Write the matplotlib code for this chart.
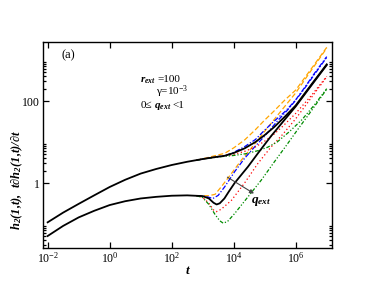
import matplotlib
matplotlib.use("Agg")
import matplotlib.pyplot as plt
from matplotlib.ticker import FixedLocator, NullFormatter, FixedFormatter
import numpy as np

plt.rcParams['font.family'] = ['Liberation Serif', 'DejaVu Serif']
plt.rcParams['mathtext.default'] = 'regular'

# --- datos (log10 t, valor) ---
# tramo comun (curva negra, todas coinciden al inicio)
logt_comun = [-2.0, -1.5, -1.0, -0.5, 0.0, 0.5, 1.0, 1.5, 2.0, 2.5, 3.0]
h_comun = [0.11, 0.19, 0.31, 0.5, 0.8, 1.2, 1.7, 2.2, 2.75, 3.3, 3.85]
dh_comun = [0.051, 0.09, 0.145, 0.21, 0.29, 0.36, 0.42, 0.46, 0.49, 0.5, 0.48]

# negra
logt_negra_h = [3.0, 3.5, 3.7, 4.0, 4.35, 4.7, 5.0, 5.3, 5.65, 6.0, 6.5, 7.0]
h_negra = [3.85, 4.4, 4.6, 5.4, 7.0, 10, 14.8, 23, 41.6, 78, 250, 785]
logt_negra_dh = [3.0, 3.2, 3.35, 3.45, 3.55, 3.7, 3.85, 4.03, 4.25, 4.46, 4.78, 5.2, 5.6, 6.0, 6.5, 7.0]
dh_negra = [0.48, 0.42, 0.33, 0.30, 0.32, 0.42, 0.63, 1.0, 1.6, 2.5, 5.3, 13.8, 32, 74, 238, 755]

# naranja
logt_nar_h = [2.8, 3.0, 3.3, 3.71, 4.0, 4.35, 4.7, 5.0, 5.3, 5.65, 6.0, 6.5, 7.0]
h_nar = [3.6, 3.88, 4.45, 5.3, 7.2, 11.2, 20, 34.4, 57, 106, 185, 610, 2040]
logt_nar_dh = [2.8, 3.2, 3.4, 3.6, 3.93, 4.25, 4.52, 4.9, 5.3, 5.7, 6.0, 6.5, 7.0]
dh_nar = [0.49, 0.49, 0.53, 0.81, 1.72, 3.64, 6.4, 14.7, 35, 83, 158, 560, 1950]

# azul
logt_azul_h = [2.8, 3.1, 3.4, 3.71, 4.0, 4.35, 4.7, 5.0, 5.3, 5.65, 5.97, 6.3, 6.6, 7.0]
h_azul = [3.6, 3.95, 4.3, 4.6, 5.6, 7.7, 11.5, 19.6, 32, 55, 100, 220, 470, 1210]
logt_azul_dh = [2.8, 3.1, 3.33, 3.5, 3.71, 4.03, 4.35, 4.7, 5.0, 5.4, 5.8, 6.2, 6.6, 7.0]
dh_azul = [0.49, 0.47, 0.42, 0.5, 0.81, 1.89, 4.0, 8.0, 14, 32, 68, 165, 440, 1160]

# roja
logt_roja_h = [2.8, 3.2, 3.6, 4.0, 4.35, 4.7, 5.0, 5.3, 5.6, 6.0, 6.5, 7.0]
h_roja = [3.6, 4.1, 4.5, 5.0, 5.9, 7.6, 10.5, 15.5, 25, 50, 135, 400]
logt_roja_dh = [2.8, 3.0, 3.2, 3.35, 3.44, 3.6, 3.93, 4.35, 4.78, 5.2, 5.6, 6.0, 6.5, 7.0]
dh_roja = [0.49, 0.45, 0.32, 0.22, 0.20, 0.23, 0.38, 1.0, 3.0, 7.5, 16, 37, 120, 390]

# verde
logt_verde_h = [2.8, 3.2, 3.6, 4.0, 4.4, 4.8, 5.1, 5.4, 5.8, 6.2, 6.6, 7.0]
h_verde = [3.6, 4.05, 4.4, 4.7, 5.2, 6.2, 7.5, 10, 18, 35, 80, 200]
logt_verde_dh = [2.8, 3.0, 3.2, 3.4, 3.55, 3.66, 3.8, 4.03, 4.46, 4.89, 5.3, 5.7, 6.1, 6.5, 7.0]
dh_verde = [0.49, 0.44, 0.30, 0.17, 0.12, 0.105, 0.115, 0.18, 0.46, 1.18, 3.2, 8.3, 22, 57, 195]

fig = plt.figure(figsize=(3.74, 2.89), dpi=100)
ax = fig.add_axes([43/374, 1-248/289, (332-43)/374, (248-42)/289])

def t(lt):
    return 10**np.array(lt)

estilos = [
    (logt_nar_h, h_nar, logt_nar_dh, dh_nar, '#FFA500', (0, (4, 2))),
    (logt_azul_h, h_azul, logt_azul_dh, dh_azul, '#0000FF', (0, (4, 1.5, 1, 1.5))),
    (logt_roja_h, h_roja, logt_roja_dh, dh_roja, '#FF0000', (0, (1, 2))),
    (logt_verde_h, h_verde, logt_verde_dh, dh_verde, '#008B00', (0, (3, 1.5, 1, 1.5, 1, 1.5))),
]
for lh, vh, ld, vd, col, ls in estilos:
    ax.plot(t(lh), vh, color=col, ls=ls, lw=0.9)
    ax.plot(t(ld), vd, color=col, ls=ls, lw=0.9)

ax.plot(t(logt_comun + logt_negra_h[1:]), h_comun + h_negra[1:], color='black', lw=1.3)
ax.plot(t(logt_comun + logt_negra_dh[1:]), dh_comun + dh_negra[1:], color='black', lw=1.3)

ax.set_xscale('log')
ax.set_yscale('log')
ax.set_xlim(10**-2.15, 10**7.17)
ax.set_ylim(10**-1.585, 10**3.44)

# ticks estilo xmgrace
ax.xaxis.set_major_locator(FixedLocator([1e-2, 1, 1e2, 1e4, 1e6]))
ax.xaxis.set_major_formatter(FixedFormatter(['$10^{-2}$', '$10^{0}$', '$10^{2}$', '$10^{4}$', '$10^{6}$']))
ax.xaxis.set_minor_locator(FixedLocator([]))
ax.yaxis.set_major_locator(FixedLocator([1e-2, 1, 1e2]))
ax.yaxis.set_major_formatter(FixedFormatter(['0.01', '1', '100']))
menores = [k*10.0**e for e in (-2, 0, 2) for k in range(2, 10)]
ax.yaxis.set_minor_locator(FixedLocator(menores))
ax.yaxis.set_minor_formatter(NullFormatter())
ax.tick_params(which='both', direction='in', top=True, right=True, labelsize=8.5, width=0.9)
ax.tick_params(which='major', length=4, pad=2)
ax.tick_params(which='minor', length=2)
for s in ax.spines.values():
    s.set_linewidth(1.0)

ax.set_xlabel('t', fontsize=9.5, fontweight='bold', style='italic', labelpad=0)
fig.text(17/374, 1-180/289, '$h_2$(1,t),  t∂$h_2$(1,t)/∂t', rotation=90,
         ha='center', va='center', fontsize=9, fontweight='bold', style='italic')

renderer = fig.canvas.get_renderer()

def texto_seguido(x0, y0, partes, size):
    # escribe trozos de texto uno detras de otro (pixeles desde arriba-izq)
    x = x0
    for s, negrita in partes:
        kw = dict(fontweight='bold', style='italic') if negrita else {}
        tx = fig.text(x/374, 1-y0/289, s, fontsize=size, va='baseline', **kw)
        x += tx.get_window_extent(renderer).width + 1.5

# textos
fig.text(62/374, 1-55/289, '(a)', fontsize=9, va='center')
texto_seguido(140, 82, [('$r_{ext}$', True), ('=100', False)], 8)
texto_seguido(156, 95, [('γ=10$^{-3}$', False)], 8)
texto_seguido(141, 108, [('0≤', False), ('$q_{ext}$', True), ('<1', False)], 8)

ax.annotate('', xy=(10**4.73, 0.51), xytext=(10**3.72, 1.51),
            arrowprops=dict(arrowstyle='-|>', color='#444444', lw=0.8, mutation_scale=6))
fig.text(251/374, 1-202/289, '$q_{ext}$', fontsize=9.5, fontweight='bold', style='italic', va='center')

fig.savefig('out.png', dpi=100)
